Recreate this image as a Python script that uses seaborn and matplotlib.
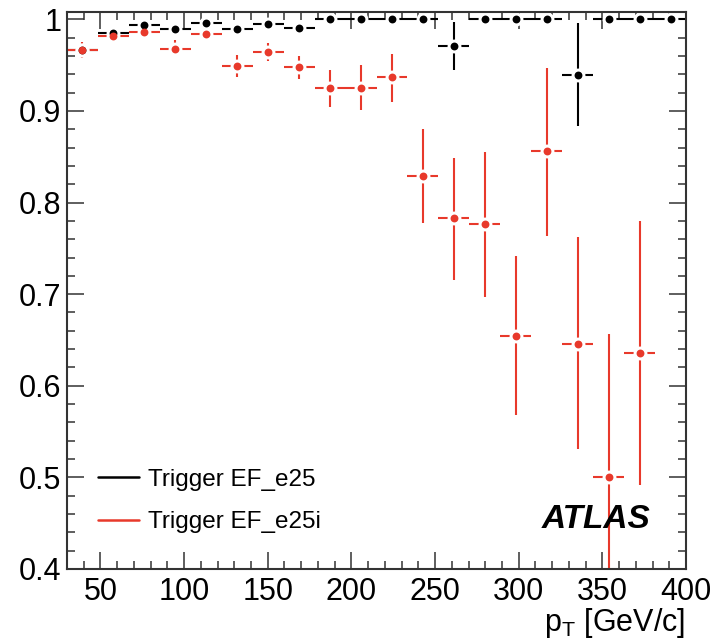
import numpy as np
import pandas as pd
import matplotlib
matplotlib.use("Agg")
import matplotlib.pyplot as plt
import seaborn as sns
from matplotlib.lines import Line2D
from matplotlib.ticker import MultipleLocator

# ---------------- data ----------------
pt_centers = [39.25, 57.75, 76.25, 94.75, 113.25, 131.75, 150.25, 168.75, 187.25, 205.75,
              224.25, 242.75, 261.25, 279.75, 298.25, 316.75, 335.25, 353.75, 372.25, 390.75]
bin_half_width = 9.25

e25_eff = [0.967, 0.985, 0.994, 0.989, 0.9955, 0.989, 0.995, 0.991, 1.0, 1.0,
           1.0, 1.0, 0.971, 1.0, 1.0, 1.0, 0.9395, 1.0, 1.0, 1.0]
e25_err_lo = [0.006, 0.004, 0.003, 0.004, 0.003, 0.005, 0.004, 0.005, 0.0, 0.0,
              0.0, 0.0, 0.026, 0.0, 0.0, 0.0, 0.056, 0.0, 0.0, 0.0]
e25_err_hi = [0.006, 0.004, 0.003, 0.004, 0.003, 0.005, 0.004, 0.005, 0.0, 0.0,
              0.0, 0.0, 0.026, 0.0, 0.0, 0.0, 0.0565, 0.0, 0.0, 0.0]

e25i_eff = [0.967, 0.982, 0.986, 0.968, 0.984, 0.949, 0.964, 0.9475, 0.9246, 0.925,
            0.9366, 0.829, 0.783, 0.777, 0.6545, 0.856, 0.646, 0.500, 0.6357, np.nan]
e25i_err_lo = [0.009, 0.004, 0.004, 0.007, 0.004, 0.012, 0.010, 0.013, 0.020, 0.024,
               0.027, 0.051, 0.067, 0.080, 0.0865, 0.092, 0.115, 0.160, 0.144, np.nan]
e25i_err_hi = [0.0085, 0.004, 0.004, 0.009, 0.004, 0.012, 0.010, 0.0125, 0.020, 0.025,
               0.026, 0.051, 0.066, 0.0785, 0.0875, 0.091, 0.116, 0.157, 0.144, np.nan]

series_labels = ["Trigger EF_e25", "Trigger EF_e25i"]
x_ticks = [50, 100, 150, 200, 250, 300, 350, 400]
y_ticks = [0.4, 0.5, 0.6, 0.7, 0.8, 0.9, 1.0]
y_tick_labels = ["0.4", "0.5", "0.6", "0.7", "0.8", "0.9", "1"]

# ---------------- style ----------------
sns.set_theme(style="ticks")
plt.rcParams["font.family"] = ["Liberation Sans", "DejaVu Sans"]
plt.rcParams["mathtext.fontset"] = "custom"
plt.rcParams["mathtext.rm"] = "Liberation Sans"
plt.rcParams["mathtext.it"] = "Liberation Sans:italic"
plt.rcParams["text.color"] = "black"
plt.rcParams["axes.labelcolor"] = "black"
plt.rcParams["xtick.labelcolor"] = "black"
plt.rcParams["ytick.labelcolor"] = "black"

BLACK = "#000000"
RED = "#e8392b"

fig = plt.figure(figsize=(7.15, 6.43), dpi=100)
fig.patch.set_facecolor("white")
ax = fig.add_axes([67 / 715, 1 - 569 / 643, (686 - 67) / 715, (569 - 12) / 643])
ax.set_facecolor("white")

df_e25 = pd.DataFrame({"pt": pt_centers, "eff": e25_eff})
df_e25i = pd.DataFrame({"pt": pt_centers, "eff": e25i_eff})

# error bars
ax.errorbar(df_e25["pt"], df_e25["eff"], yerr=[e25_err_lo, e25_err_hi], xerr=bin_half_width,
            fmt="none", ecolor=BLACK, elinewidth=1.5, capsize=0, zorder=2.0)
ax.errorbar(df_e25i["pt"], df_e25i["eff"], yerr=[e25i_err_lo, e25i_err_hi], xerr=bin_half_width,
            fmt="none", ecolor=RED, elinewidth=1.5, capsize=0, zorder=2.05)

# white halos (ROOT-style gap around marker)
for df in (df_e25, df_e25i):
    sns.scatterplot(data=df, x="pt", y="eff", color="white", s=100, linewidth=0,
                    ax=ax, zorder=2.1, legend=False)

# markers
sns.scatterplot(data=df_e25, x="pt", y="eff", color=BLACK, s=32, linewidth=0,
                ax=ax, zorder=2.2, legend=False)
sns.scatterplot(data=df_e25i, x="pt", y="eff", color=RED, s=32, linewidth=0,
                ax=ax, zorder=2.3, legend=False)

# axes
ax.set_xlim(30, 400)
ax.set_ylim(0.4, 1.008)
ax.set_xticks(x_ticks)
ax.set_xticklabels([str(t) for t in x_ticks])
ax.set_yticks(y_ticks)
ax.set_yticklabels(y_tick_labels)
ax.xaxis.set_minor_locator(MultipleLocator(10))
ax.yaxis.set_minor_locator(MultipleLocator(0.02))
ax.tick_params(which="both", direction="in", top=True, right=True, width=1.1,
               color="#333333", labelcolor="black", labelsize=22)
ax.tick_params(which="major", length=12)
ax.tick_params(which="minor", length=6)
ax.tick_params(axis="x", which="major", pad=6)
ax.tick_params(axis="y", which="major", pad=4)
for sp in ax.spines.values():
    sp.set_visible(True)
    sp.set_color("#333333")
    sp.set_linewidth(1.5)
ax.set_xlabel("")
ax.set_ylabel("")

fig.text(685 / 715, 1 - 631 / 643, r"p$_{\mathrm{T}}$ [GeV/c]", ha="right", va="baseline",
         fontsize=22, color="black")

# legend
handles = [Line2D([0], [0], color=BLACK, lw=1.8), Line2D([0], [0], color=RED, lw=1.8)]
leg = ax.legend(handles, series_labels, loc="lower left", bbox_to_anchor=(0.050, 0.064),
                frameon=False, fontsize=17.5, handlelength=1.7, handletextpad=0.35,
                labelspacing=0.85, borderaxespad=0, borderpad=0)
for t in leg.get_texts():
    t.set_color("black")

ax.text(0.942, 0.0736, "ATLAS", transform=ax.transAxes, ha="right", va="baseline",
        fontsize=24, fontweight="bold", fontstyle="italic", color="black", zorder=3)

fig.savefig("out.png", dpi=100, facecolor="white")
